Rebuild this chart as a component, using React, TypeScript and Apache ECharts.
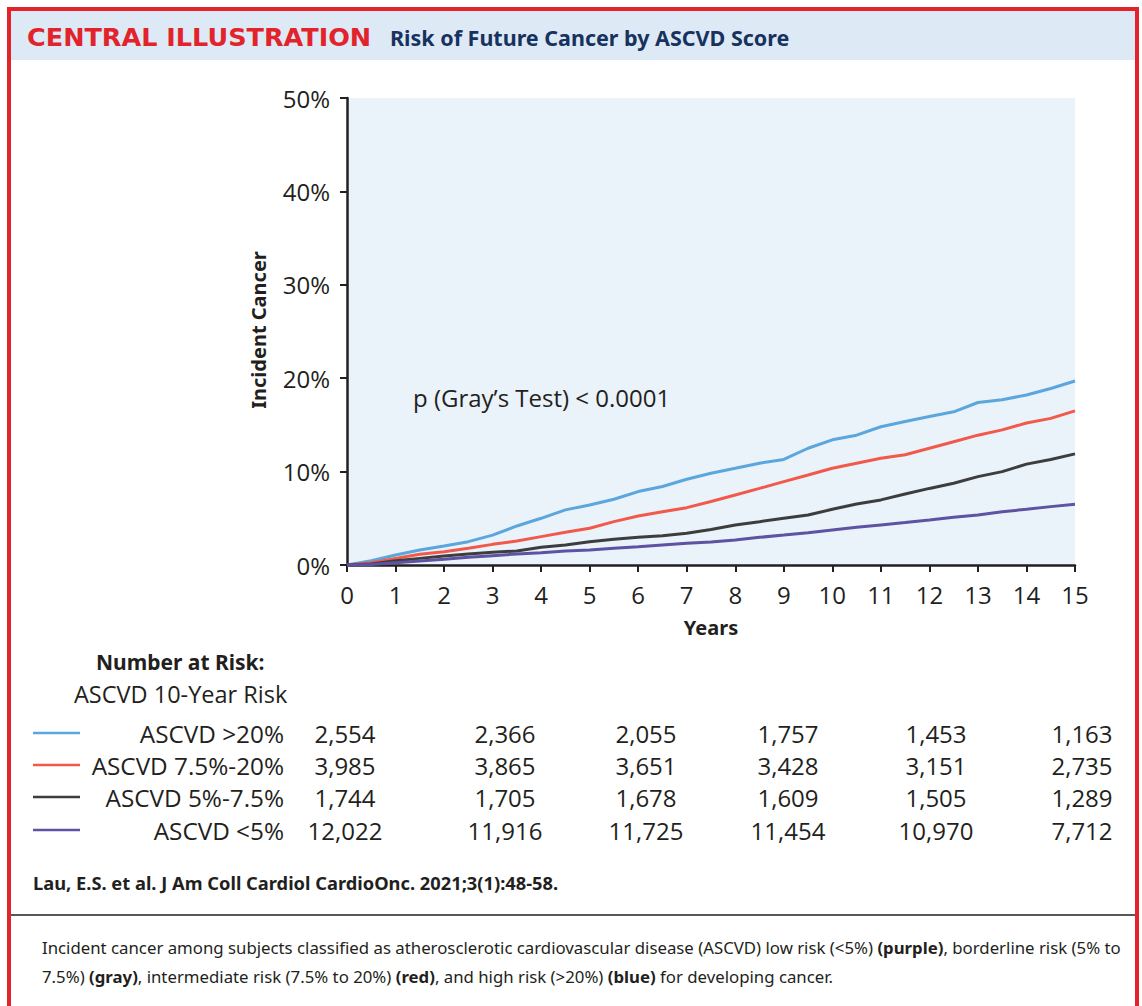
import React, { useEffect, useRef } from "react";
import * as echarts from "echarts";

// ---- data ----
const years = [0, 0.5, 1, 1.5, 2, 2.5, 3, 3.5, 4, 4.5, 5, 5.5, 6, 6.5, 7, 7.5, 8, 8.5, 9, 9.5, 10, 10.5, 11, 11.5, 12, 12.5, 13, 13.5, 14, 14.5, 15];
const riskLabels = ["ASCVD >20%", "ASCVD 7.5%-20%", "ASCVD 5%-7.5%", "ASCVD <5%"];
const riskColors = ["#5aa6dd", "#f15a4a", "#3d3d3d", "#5e52a2"];
const highRisk = [0, 0.46, 1.07, 1.6, 2.04, 2.5, 3.2, 4.18, 5.0, 5.9, 6.43, 7.04, 7.86, 8.4, 9.18, 9.83, 10.36, 10.9, 11.3, 12.5, 13.4, 13.9, 14.8, 15.36, 15.9, 16.4, 17.4, 17.7, 18.2, 18.9, 19.7];
const intermediateRisk = [0, 0.25, 0.71, 1.14, 1.43, 1.79, 2.21, 2.57, 3.04, 3.5, 3.93, 4.64, 5.25, 5.71, 6.14, 6.8, 7.5, 8.2, 8.93, 9.64, 10.36, 10.9, 11.43, 11.8, 12.5, 13.2, 13.9, 14.47, 15.2, 15.7, 16.5];
const borderlineRisk = [0, 0.1, 0.46, 0.71, 0.96, 1.18, 1.36, 1.5, 1.9, 2.14, 2.5, 2.75, 2.96, 3.14, 3.4, 3.8, 4.29, 4.64, 5.0, 5.36, 5.96, 6.54, 6.97, 7.6, 8.2, 8.75, 9.46, 10.0, 10.8, 11.3, 11.9];
const lowRisk = [0, 0.05, 0.25, 0.43, 0.61, 0.82, 1.0, 1.18, 1.32, 1.5, 1.6, 1.79, 1.96, 2.14, 2.32, 2.45, 2.68, 2.96, 3.2, 3.46, 3.75, 4.04, 4.29, 4.54, 4.82, 5.11, 5.36, 5.71, 5.96, 6.25, 6.5];
const atRiskHigh = [2554, 2366, 2055, 1757, 1453, 1163];
const atRiskIntermediate = [3985, 3865, 3651, 3428, 3151, 2735];
const atRiskBorderline = [1744, 1705, 1678, 1609, 1505, 1289];
const atRiskLow = [12022, 11916, 11725, 11454, 10970, 7712];

const allSeries = [highRisk, intermediateRisk, borderlineRisk, lowRisk];
const allAtRisk = [atRiskHigh, atRiskIntermediate, atRiskBorderline, atRiskLow];

// ---- layout ----
const TXT = "#231f20";
const FONT = "'Open Sans', 'Noto Sans', sans-serif";
const NOTO = "'Noto Sans', sans-serif";
const colX = [345, 505, 646, 788, 936, 1082];
const rowY = [733, 765, 797, 830];

function txt(text: string, x: number, y: number, size: number, opts: any = {}) {
  const align = opts.align || "left";
  return {
    type: "text",
    x,
    y,
    rotation: opts.rotation || 0,
    z: 10,
    style: {
      text,
      fill: opts.fill || TXT,
      fontSize: size,
      fontFamily: opts.family || FONT,
      fontWeight: opts.weight || "normal",
      align,
      textAlign: align,
      verticalAlign: "middle",
      textVerticalAlign: "middle",
      rich: opts.rich,
    },
  };
}

export default function App() {
  const ref = useRef<HTMLDivElement>(null);
  useEffect(() => {
    if (!ref.current) return;
    const chart = echarts.init(ref.current, null, { renderer: "svg" });

    const graphics: any[] = [];
    graphics.push({
      type: "rect",
      z: 1,
      shape: { x: 11, y: 11, width: 1124, height: 49 },
      style: { fill: "#dde9f5" },
    });
    graphics.push({
      type: "rect",
      z: 2,
      shape: { x: 9, y: 9, width: 1128, height: 1030 },
      style: { fill: "none", stroke: "#e2232b", lineWidth: 4 },
    });
    graphics.push(txt("CENTRAL ILLUSTRATION", 27, 37, 25.5, { fill: "#e2232b", weight: "bold", family: "'DejaVu Sans', sans-serif" }));
    graphics.push(txt("Risk of Future Cancer by ASCVD Score", 390, 37, 21.5, { fill: "#17325f", weight: "bold", family: NOTO }));

    graphics.push(txt("Incident Cancer", 258, 330, 20, { weight: "bold", rotation: Math.PI / 2, align: "center", family: NOTO }));
    graphics.push(txt("Years", 711, 627, 20, { weight: "bold", align: "center", family: NOTO }));
    graphics.push(txt("p (Gray\u2019s Test) < 0.0001", 413, 397, 24, {}));

    graphics.push(txt("Number at Risk:", 96, 662, 21, { weight: "bold", family: NOTO }));
    graphics.push(txt("ASCVD 10-Year Risk", 74, 694, 23.5, {}));
    riskLabels.forEach((lab, i) => {
      const y = rowY[i];
      graphics.push({
        type: "line",
        z: 10,
        shape: { x1: 33, y1: y, x2: 80, y2: y },
        style: { stroke: riskColors[i], lineWidth: 2.5 },
      });
      graphics.push(txt(lab, 284, y, 24.3, { align: "right" }));
      allAtRisk[i].forEach((v, j) => {
        graphics.push(txt(v.toLocaleString("en-US"), colX[j], y, 24, { align: "center" }));
      });
    });

    graphics.push(txt("Lau, E.S. et al. J Am Coll Cardiol CardioOnc. 2021;3(1):48-58.", 33, 882, 18.3, { weight: "bold", family: NOTO }));
    graphics.push({
      type: "line",
      z: 10,
      shape: { x1: 11, y1: 915, x2: 1135, y2: 915 },
      style: { stroke: TXT, lineWidth: 1.5 },
    });
    const rich = { b: { fontWeight: "bold", fontSize: 16.8, fontFamily: NOTO, fill: TXT } };
    graphics.push(
      txt(
        "Incident cancer among subjects classified as atherosclerotic cardiovascular disease (ASCVD) low risk (<5%) {b|(purple)}, borderline risk (5% to",
        42, 947, 16.8, { family: NOTO, rich }
      )
    );
    graphics.push(
      txt(
        "7.5%) {b|(gray)}, intermediate risk (7.5% to 20%) {b|(red)}, and high risk (>20%) {b|(blue)} for developing cancer.",
        42, 976, 16.8, { family: NOTO, rich }
      )
    );

    const axisLine = { show: true, lineStyle: { color: TXT, width: 2.5 } };
    const axisTick = { show: true, length: 7, lineStyle: { color: TXT, width: 2 } };

    chart.setOption({
      animation: false,
      grid: {
        left: 347,
        top: 98,
        width: 728,
        height: 467,
        show: true,
        backgroundColor: "#eaf2fa",
        borderWidth: 0,
      },
      xAxis: {
        type: "value",
        min: 0,
        max: 15,
        interval: 1,
        axisLine,
        axisTick,
        splitLine: { show: false },
        axisLabel: { color: TXT, fontSize: 24, fontFamily: FONT, margin: 17 },
      },
      yAxis: {
        type: "value",
        min: 0,
        max: 50,
        interval: 10,
        axisLine,
        axisTick,
        splitLine: { show: false },
        axisLabel: { color: TXT, fontSize: 24, fontFamily: FONT, margin: 17, formatter: "{value}%" },
      },
      series: allSeries.map((vals, i) => ({
        type: "line",
        name: riskLabels[i],
        data: years.map((yr, k) => [yr, vals[k]]),
        showSymbol: false,
        symbol: "none",
        lineStyle: { color: riskColors[i], width: 3 },
        itemStyle: { color: riskColors[i] },
        z: 3 + i,
      })),
      graphic: graphics,
    });

    return () => chart.dispose();
  }, []);

  return (
    <div
      ref={ref}
      style={{ position: "absolute", left: 0, top: 0, width: 1142, height: 1006, background: "#ffffff" }}
    />
  );
}
